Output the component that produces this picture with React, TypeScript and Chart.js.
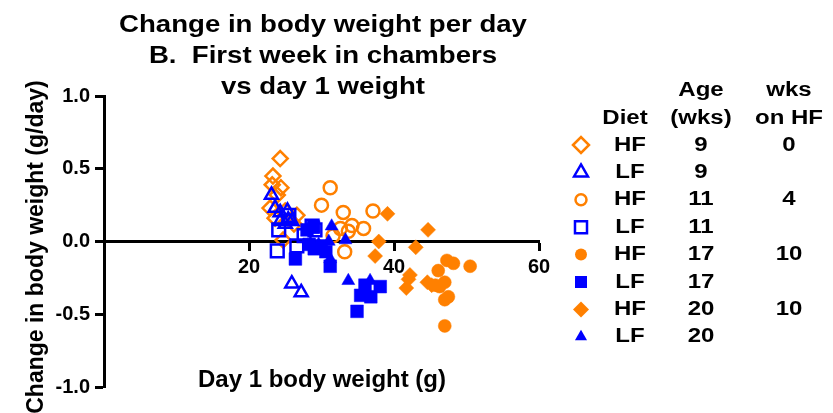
import React, { useEffect, useRef } from 'react';
import { Chart, registerables } from 'chart.js';

Chart.register(...registerables);

const ORANGE = '#FF8000';
const BLUE = '#0000FF';
const FONT = '"Liberation Sans", Arial, sans-serif';

// [day 1 body weight (g), change in body weight (g/day)]
const hf9: number[][] = [
  [24.3, 0.57], [23.3, 0.45], [24.4, 0.37], [23.2, 0.39], [23.9, 0.32], [22.9, 0.23],
  [23.6, 0.16], [26.6, 0.18], [26.2, 0.12], [24.7, 0.01], [25.0, 0.21],
];
const lf9: number[][] = [
  [23.1, 0.32], [23.6, 0.23], [24.3, 0.2], [25.3, 0.21], [25.4, 0.15], [25.0, 0.12],
  [25.9, 0.14], [24.3, 0.14], [25.9, -0.29], [27.2, -0.35],
];
const hf11: number[][] = [
  [31.2, 0.37], [30.0, 0.25], [33.0, 0.2], [37.1, 0.21], [32.6, 0.09], [34.2, 0.11],
  [33.7, 0.07], [35.8, 0.09], [31.6, 0.04], [33.2, -0.07],
];
const lf11: number[][] = [
  [23.9, -0.065], [26.6, -0.03], [24.1, 0.08], [25.5, 0.18], [28.7, 0.105], [29.1, 0.08],
  [27.6, 0.04],
];
const hf17: number[][] = [
  [47.3, -0.13], [48.2, -0.15], [50.5, -0.17], [46.1, -0.2], [47.0, -0.28], [45.7, -0.3],
  [46.3, -0.31], [47.5, -0.38], [47.0, -0.4], [47.0, -0.58],
];
const lf17: number[][] = [
  [26.4, -0.12], [28.0, 0.08], [28.9, 0.1], [28.3, -0.02], [29.0, -0.05], [30.0, -0.03],
  [30.6, -0.07], [31.2, -0.17], [34.9, -0.48], [35.4, -0.37], [36.8, -0.38], [38.1, -0.31],
  [36.0, -0.3],
];
const hf20: number[][] = [
  [39.1, 0.19], [44.7, 0.08], [37.9, 0.0], [43.0, -0.04], [37.4, -0.1], [42.2, -0.23],
  [42.0, -0.26], [41.7, -0.32], [45.2, -0.3], [44.6, -0.28],
];
const lf20: number[][] = [
  [33.7, -0.27], [36.7, -0.27], [33.3, 0.01], [31.4, 0.105], [31.2, -0.12], [30.2, -0.06],
  [29.6, -0.02], [31.0, 0.0],
];

const xTicks = [20, 40, 60];
const yTicks = [-1.0, -0.5, 0.0, 0.5, 1.0];
const titleLines = ['Change in body weight per day', 'B.  First week in chambers', 'vs day 1 weight'];
const xTitle = 'Day 1 body weight (g)';
const yTitle = 'Change in body weight (g/day)';

const dietLabels = ['HF', 'LF', 'HF', 'LF', 'HF', 'LF', 'HF', 'LF'];
const ageLabels = ['9', '9', '11', '11', '17', '17', '20', '20'];
const wksLabels = ['0', '', '4', '', '10', '', '10', ''];

type Series = {
  data: number[][];
  color: string;
  style: 'circle' | 'rect' | 'rectRot' | 'triangle';
  filled: boolean;
  radius: number;
  legendRadius: number;
};

const seriesList: Series[] = [
  { data: hf9, color: ORANGE, style: 'rectRot', filled: false, radius: 7.5, legendRadius: 8 },
  { data: lf9, color: BLUE, style: 'triangle', filled: false, radius: 7.5, legendRadius: 8 },
  { data: hf11, color: ORANGE, style: 'circle', filled: false, radius: 6.5, legendRadius: 5.5 },
  { data: lf11, color: BLUE, style: 'rect', filled: false, radius: 9, legendRadius: 8.5 },
  { data: hf17, color: ORANGE, style: 'circle', filled: true, radius: 6.5, legendRadius: 6 },
  { data: lf17, color: BLUE, style: 'rect', filled: true, radius: 9, legendRadius: 8.5 },
  { data: hf20, color: ORANGE, style: 'rectRot', filled: true, radius: 7.5, legendRadius: 8 },
  { data: lf20, color: BLUE, style: 'triangle', filled: true, radius: 7.5, legendRadius: 7 },
];

function drawMarker(ctx: CanvasRenderingContext2D, s: Series, x: number, y: number, r: number) {
  ctx.save();
  ctx.beginPath();
  if (s.style === 'circle') {
    ctx.arc(x, y, r, 0, Math.PI * 2);
  } else if (s.style === 'rect') {
    const h = r * Math.SQRT1_2;
    ctx.rect(x - h, y - h, 2 * h, 2 * h);
  } else if (s.style === 'rectRot') {
    ctx.moveTo(x - r, y);
    ctx.lineTo(x, y - r);
    ctx.lineTo(x + r, y);
    ctx.lineTo(x, y + r);
    ctx.closePath();
  } else {
    const a = (2 * Math.PI) / 3;
    ctx.moveTo(x, y - r);
    ctx.lineTo(x + Math.sin(a) * r, y - Math.cos(a) * r);
    ctx.lineTo(x + Math.sin(2 * a) * r, y - Math.cos(2 * a) * r);
    ctx.closePath();
  }
  if (s.filled) {
    ctx.fillStyle = s.color;
    ctx.fill();
  } else {
    ctx.strokeStyle = s.color;
    ctx.lineWidth = 2.5;
    ctx.stroke();
  }
  ctx.restore();
}

function text(ctx: CanvasRenderingContext2D, str: string, x: number, y: number, size: number, sx = 1, baseline: CanvasTextBaseline = 'alphabetic') {
  ctx.save();
  ctx.translate(x, y);
  ctx.scale(sx, 1);
  ctx.font = `bold ${size}px ${FONT}`;
  ctx.fillStyle = '#000';
  ctx.textAlign = 'center';
  ctx.textBaseline = baseline;
  ctx.fillText(str, 0, 0);
  ctx.restore();
}

const decorPlugin = {
  id: 'decor',
  afterDraw(chart: Chart) {
    const ctx = chart.ctx;
    // title
    const baselines = [32, 63, 94];
    titleLines.forEach((t, i) => text(ctx, t, 323, baselines[i], 23, 1.2));
    // x title
    text(ctx, xTitle, 322, 387, 24);
    // y title
    ctx.save();
    ctx.translate(43, 247);
    ctx.rotate(-Math.PI / 2);
    text(ctx, yTitle, 0, 0, 23);
    ctx.restore();
    // legend
    const colDiet = 630;
    const colAge = 701;
    const colWks = 789;
    const markerX = 581;
    const lsz = 20;
    const lsx = 1.2;
    text(ctx, 'Age', colAge, 90, lsz, lsx, 'middle');
    text(ctx, 'wks', colWks, 90, lsz, lsx, 'middle');
    text(ctx, 'Diet', colDiet - 5, 118, lsz, lsx, 'middle');
    text(ctx, '(wks)', colAge, 118, lsz, lsx, 'middle');
    text(ctx, 'on HF', colWks, 118, lsz, lsx, 'middle');
    seriesList.forEach((s, i) => {
      const y = 145 + i * 27.4;
      drawMarker(ctx, s, markerX, y, s.legendRadius);
      text(ctx, dietLabels[i], colDiet, y, lsz, lsx, 'middle');
      text(ctx, ageLabels[i], colAge, y, lsz, lsx, 'middle');
      if (wksLabels[i]) text(ctx, wksLabels[i], colWks, y, lsz, lsx, 'middle');
    });
  },
};

export default function App() {
  const ref = useRef<HTMLCanvasElement | null>(null);
  useEffect(() => {
    if (!ref.current) return;
    const n = seriesList.length;
    const chart = new Chart(ref.current, {
      type: 'scatter',
      data: {
        datasets: seriesList.map((s, i) => ({
          label: dietLabels[i] + ' ' + ageLabels[i],
          data: s.data.map(([x, y]) => ({ x, y })),
          pointStyle: s.style,
          pointRadius: s.radius,
          pointHoverRadius: s.radius,
          backgroundColor: s.filled ? s.color : 'rgba(0,0,0,0)',
          borderColor: s.color,
          pointBorderWidth: s.filled ? 0.5 : 2.5,
          borderWidth: s.filled ? 0.5 : 2.5,
          order: n - i,
        })),
      },
      options: {
        responsive: false,
        animation: false,
        events: [],
        layout: { padding: { left: 0, top: 96, right: 294, bottom: 26 } },
        plugins: { legend: { display: false }, tooltip: { enabled: false }, title: { display: false } },
        scales: {
          x: {
            type: 'linear',
            min: 0,
            max: 60,
            position: { y: 0 },
            afterBuildTicks: (scale: any) => {
              scale.ticks = xTicks.map((v) => ({ value: v }));
            },
            grid: { drawOnChartArea: false, drawTicks: true, tickLength: 8, tickColor: '#000', tickWidth: 3 },
            border: { display: true, color: '#000', width: 3 },
            ticks: { color: '#000', font: { family: FONT, size: 20, weight: 'bold' }, padding: 6, maxRotation: 0 },
          },
          y: {
            type: 'linear',
            min: -1,
            max: 1,
            afterBuildTicks: (scale: any) => {
              scale.ticks = yTicks.map((v) => ({ value: v }));
            },
            afterFit: (scale: any) => {
              scale.width = 104;
            },
            grid: { drawOnChartArea: false, drawTicks: true, tickLength: 9, tickColor: '#000', tickWidth: 3 },
            border: { display: true, color: '#000', width: 3 },
            ticks: {
              color: '#000',
              font: { family: FONT, size: 20, weight: 'bold' },
              padding: 5,
              callback: (v: any) => Number(v).toFixed(1),
            },
          },
        },
      },
      plugins: [decorPlugin],
    } as any);
    return () => chart.destroy();
  }, []);
  return (
    <canvas
      ref={ref}
      width={833}
      height={413}
      style={{ position: 'absolute', left: 0, top: 0, width: 833, height: 413 }}
    />
  );
}
